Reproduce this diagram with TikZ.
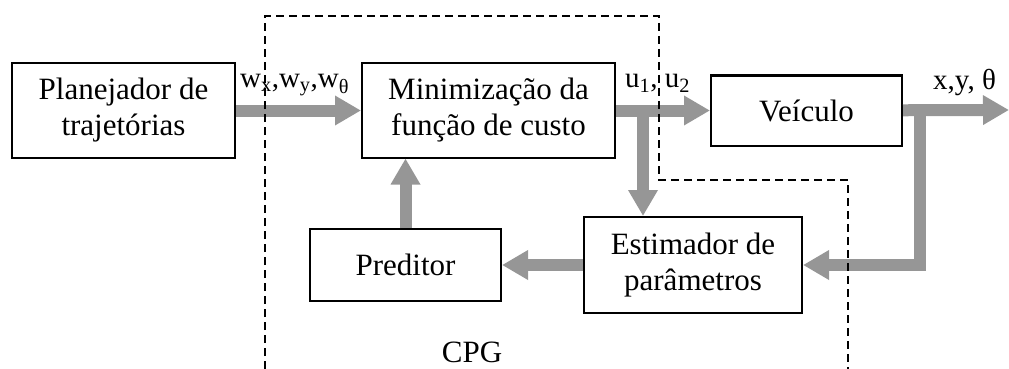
\documentclass[tikz,border=0pt]{standalone}
\usepackage{fontspec}
\setmainfont{Liberation Serif}
\usepackage{tikz}
\usetikzlibrary{arrows.meta, positioning}
\definecolor{figgray}{RGB}{150,150,150}
\tikzstyle{blockbox} = [rectangle, draw=black, line width=2pt,
fill=white, align=center, inner sep=0pt,
font=\fontsize{31}{36}\selectfont]
\tikzstyle{flowarrow} = [-{Triangle[length=26pt, width=28pt]}, line width=12pt, draw=figgray]
\tikzstyle{siglabel} = [anchor=base west, inner sep=0pt, font=\fontsize{29}{34}\selectfont]
\tikzstyle{cpgline} = [draw=black, line width=1.5pt, dash pattern=on 8pt off 5pt]

\begin{document}
\begin{tikzpicture}[x=1pt, y=1pt]
    \useasboundingbox (0,0) rectangle (1009,-369);
    \node (plan) [blockbox, minimum width=223pt, minimum height=95pt] at (123.5,-110.5)
    {Planejador de\\trajetórias};
    \node (min) [blockbox, right=125pt of plan, minimum width=253pt, minimum height=94pt]
    {Minimização da\\função de custo};
    \node (veic) [blockbox, right=94pt of min, minimum width=191pt, minimum height=70pt]
    {Veículo};
    \node (est) [blockbox, minimum width=218pt, minimum height=96pt] at (693,-265)
    {Estimador de\\parâmetros};
    \node (pred) [blockbox, left=81pt of est, minimum width=191pt, minimum height=72pt]
    {Preditor};
    \node (cpg) [font=\fontsize{31}{36}\selectfont] at (472,-352) {CPG};

    \coordinate (splitu) at (643,-110);
    \coordinate (splitx) at (920,-110);
    \coordinate (out) at (1009,-110);

    \draw[flowarrow] (plan) -- (min);
    \draw[flowarrow] (min) -- (veic);
    \draw[flowarrow] (splitu) -- (splitu |- est.north);
    \draw[flowarrow] (veic) -- (out);
    \draw[flowarrow] (splitx) -- (splitx |- est.east) -- (est.east);
    \draw[flowarrow] (est) -- (pred);
    \draw[flowarrow] (pred.north) -- (pred.north |- min.south);

    \node (w) [siglabel] at (240,-88) {w\textsubscript{x},w\textsubscript{y},w\textsubscript{θ}};
    \node (u) [siglabel] at (625,-88) {u\textsubscript{1}, u\textsubscript{2}};
    \node (xy) [siglabel] at (933,-89) {x,y, θ};

    % contorno do CPG
    \draw[cpgline] (265,-369) -- (265,-16) -- (659,-16) -- (659,-180)
    -- (848,-180) -- (848,-369);
\end{tikzpicture}
\end{document}
